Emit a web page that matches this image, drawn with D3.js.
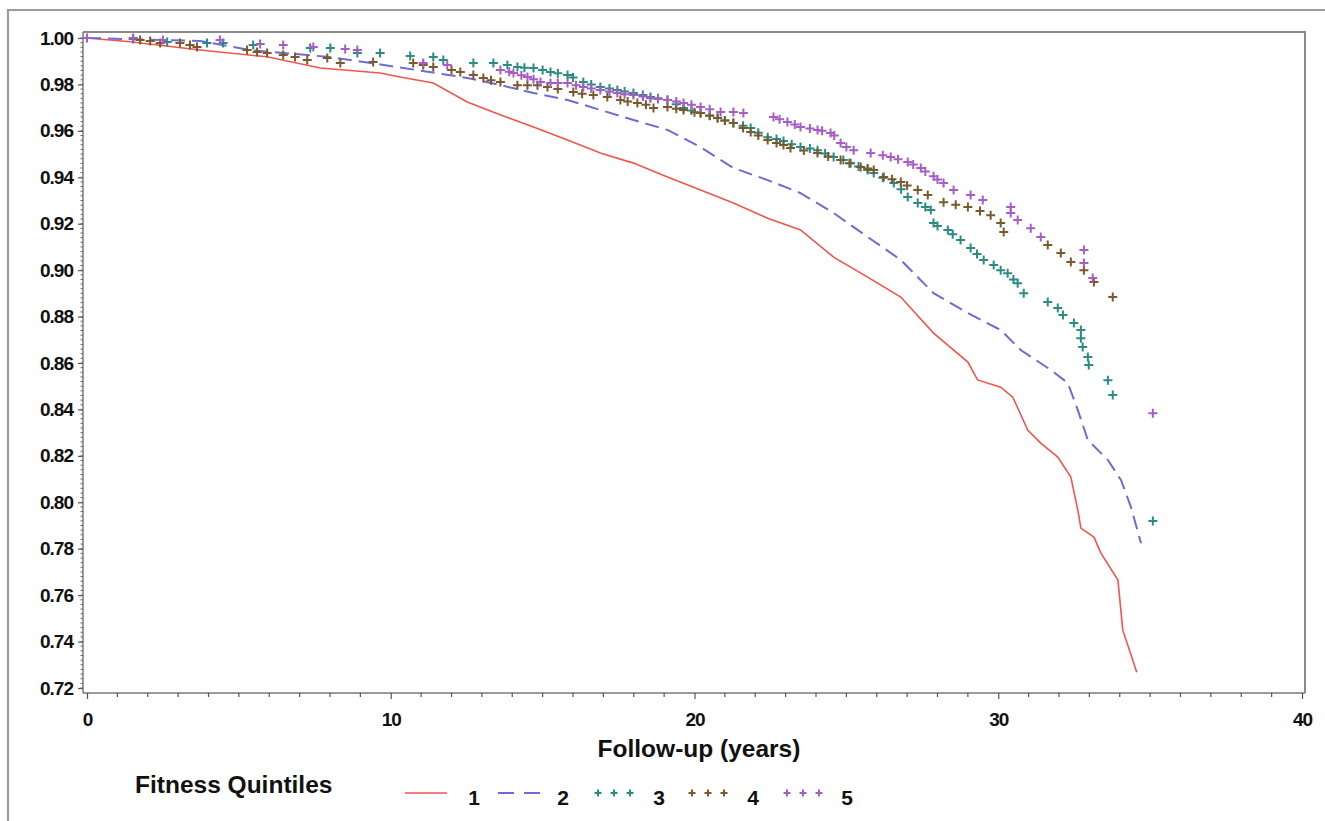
<!DOCTYPE html>
<html><head><meta charset="utf-8">
<script src="https://cdn.jsdelivr.net/npm/d3@7"></script>
<style>
body{margin:0;background:#fff;}
svg text{font-family:"Liberation Sans",Arial,Helvetica,sans-serif;font-weight:bold;fill:#111;}
</style></head>
<body>
<svg id="c" width="1325" height="821"></svg>
<script>
// ---- data (time in years, survival probability) ----
const xTicks = [0, 10, 20, 30, 40];
const yTicks = [1.00, 0.98, 0.96, 0.94, 0.92, 0.90, 0.88, 0.86, 0.84, 0.82, 0.80, 0.78, 0.76, 0.74, 0.72];
const quintiles = ["1", "2", "3", "4", "5"];

const q1Time = [0,1.42,3.72,5.93,7.68,9.65,10.31,11.40,12.52,13.62,14.70,15.82,16.90,17.99,19.11,20.20,21.28,22.41,23.49,24.58,25.70,26.79,27.87,29.00,29.32,30.08,30.48,30.97,31.40,31.96,32.39,32.62,32.72,33.15,33.38,33.94,34.10,34.56];
const q1Surv = [1.000,0.9984,0.9948,0.9919,0.9871,0.9849,0.9832,0.9806,0.9724,0.9668,0.9617,0.9561,0.9505,0.9461,0.9401,0.9345,0.9289,0.9224,0.9173,0.9056,0.8970,0.8884,0.8729,0.8604,0.8527,0.8496,0.8453,0.8311,0.8255,0.8195,0.8109,0.7966,0.7889,0.7850,0.7781,0.7665,0.7449,0.7268];

const q2Time = [0,3.72,5.37,8.01,10.21,12.52,13.61,14.70,15.82,16.90,17.99,19.11,20.20,21.28,22.41,23.49,24.58,25.70,26.79,27.87,29.00,30.08,30.74,31.73,32.29,32.62,32.95,33.61,34.04,34.37,34.70];
const q2Surv = [1.000,0.9987,0.9948,0.9918,0.9875,0.9828,0.9797,0.9763,0.9733,0.9690,0.9647,0.9604,0.9530,0.9440,0.9388,0.9332,0.9246,0.9143,0.9044,0.8901,0.8815,0.8742,0.8656,0.8570,0.8514,0.8397,0.8268,0.8182,0.8096,0.7979,0.7824];

const q3Time = [1.52,2.64,3.95,4.48,5.47,7.35,8.01,8.90,9.65,10.64,11.40,11.73,12.72,13.38,13.84,14.17,14.70,15.26,15.82,16.34,16.90,17.46,17.99,18.55,19.11,19.64,20.20,20.76,21.28,21.85,22.41,22.93,23.49,24.05,24.58,25.14,25.70,25.90,26.56,27.02,27.35,27.78,27.87,28.34,28.76,29.09,29.52,29.85,30.08,30.31,30.64,30.84,31.63,31.96,32.13,32.49,32.72,32.72,32.78,32.95,32.98,33.61,33.77,35.09,
  14.4,15.0,15.5,16.0,16.6,17.2,17.7,18.3,18.8,19.4,19.9,20.5,21.0,21.6,22.1,22.7,23.2,23.8,24.3,24.9,25.4,26.2,26.8,27.6,28.0,28.5,29.3,30.5];
const q3Surv = [0.9996,0.9983,0.9978,0.9978,0.9970,0.9957,0.9957,0.9935,0.9935,0.9922,0.9918,0.9905,0.9892,0.9892,0.9884,0.9875,0.9871,0.9854,0.9841,0.9810,0.9789,0.9776,0.9763,0.9746,0.9733,0.9698,0.9677,0.9655,0.9634,0.9612,0.9573,0.9556,0.9530,0.9517,0.9487,0.9461,0.9431,0.9418,0.9375,0.9315,0.9289,0.9259,0.9203,0.9173,0.9130,0.9095,0.9044,0.9022,0.9000,0.8987,0.8944,0.8901,0.8863,0.8837,0.8807,0.8772,0.8742,0.8707,0.8669,0.8626,0.8591,0.8526,0.8462,0.7919,
  0.9872,0.9862,0.9848,0.9830,0.9800,0.9782,0.9770,0.9755,0.9740,0.9715,0.9688,0.9666,0.9645,0.9622,0.9592,0.9565,0.9542,0.9524,0.9502,0.9474,0.9446,0.9398,0.9348,0.9272,0.9190,0.9155,0.9070,0.8960];

const q4Time = [1.75,2.08,2.41,3.06,3.39,3.62,5.27,5.60,5.93,6.46,6.85,7.25,7.91,8.34,9.42,10.74,11.07,11.40,12.29,12.72,13.05,13.61,14.17,14.83,15.16,16.01,16.67,17.13,17.56,18.12,18.65,19.11,19.64,20.20,20.76,21.28,21.85,22.41,22.93,23.16,24.05,24.81,25.47,25.90,26.23,26.79,27.35,27.68,28.20,29.00,29.75,30.08,30.18,31.63,32.06,32.39,32.82,33.15,33.77,
  12.0,13.3,14.5,15.5,16.3,17.8,18.4,19.4,20.0,20.5,21.0,21.6,22.1,22.7,23.6,24.4,25.1,25.7,26.5,27.0,28.6,29.4];
const q4Surv = [0.9991,0.9987,0.9978,0.9978,0.9970,0.9961,0.9948,0.9940,0.9935,0.9927,0.9918,0.9905,0.9914,0.9892,0.9897,0.9892,0.9884,0.9875,0.9854,0.9841,0.9828,0.9810,0.9797,0.9797,0.9789,0.9767,0.9754,0.9746,0.9733,0.9720,0.9698,0.9703,0.9690,0.9677,0.9655,0.9634,0.9595,0.9561,0.9539,0.9526,0.9505,0.9474,0.9444,0.9431,0.9401,0.9380,0.9345,0.9324,0.9293,0.9272,0.9237,0.9203,0.9164,0.9108,0.9074,0.9035,0.9000,0.8949,0.8884,
  0.9862,0.9818,0.9797,0.9780,0.9760,0.9726,0.9712,0.9695,0.9680,0.9665,0.9645,0.9612,0.9580,0.9548,0.9515,0.9490,0.9460,0.9438,0.9392,0.9365,0.9282,0.9255];

const q5Time = [0,1.52,2.50,4.38,5.70,6.46,7.45,8.50,8.90,11.07,11.86,13.61,14.04,14.50,14.93,15.26,15.82,16.34,16.90,17.46,17.99,18.55,19.11,19.64,20.20,20.86,21.28,21.61,22.60,23.06,23.49,24.05,24.48,24.81,25.24,25.80,26.46,27.02,27.45,27.87,28.20,28.53,29.09,29.49,30.41,30.41,30.64,31.07,31.40,32.82,32.82,33.11,35.09,
  13.9,14.3,14.7,15.5,16.1,16.6,17.2,17.7,18.3,18.8,19.4,19.9,20.5,22.8,23.3,23.8,24.2,24.6,25.0,26.2,26.7,27.2,27.6,28.0];
const q5Surv = [1.000,1.000,0.9991,0.9991,0.9974,0.9970,0.9961,0.9953,0.9948,0.9892,0.9884,0.9862,0.9849,0.9832,0.9810,0.9806,0.9806,0.9789,0.9776,0.9763,0.9754,0.9741,0.9733,0.9720,0.9703,0.9681,0.9681,0.9677,0.9660,0.9638,0.9617,0.9604,0.9591,0.9548,0.9517,0.9505,0.9487,0.9466,0.9440,0.9405,0.9375,0.9345,0.9324,0.9302,0.9272,0.9246,0.9216,0.9181,0.9143,0.9087,0.9031,0.8966,0.8384,
  0.9855,0.9840,0.9822,0.9806,0.9797,0.9782,0.9770,0.9758,0.9748,0.9737,0.9726,0.9712,0.9693,0.9650,0.9627,0.9610,0.9600,0.9580,0.9530,0.9495,0.9478,0.9455,0.9425,0.9390];

const colors = ["#f2544e", "#6d6cd2", "#2b8c83", "#7a5a2c", "#a65ec6"];

// ---- drawing ----
(function () {
const svg = d3.select("#c");
const x = d3.scaleLinear().domain([0, 40]).range([87, 1302]);
const y = d3.scaleLinear().domain([0.72, 1.0]).range([688, 38]);
const pL = 83, pT = 32, pR = 1305, pB = 693;

// outer frame
svg.append("path").attr("d", `M8,830 L8,10 L1330,10`).attr("fill", "none").attr("stroke", "#9a9a9a").attr("stroke-width", 2.2);
// plot frame (top & right)
svg.append("path").attr("d", `M${pL},${pT} L${pR},${pT} L${pR},${pB}`).attr("fill", "none").attr("stroke", "#8a8a8a").attr("stroke-width", 2);

// y axis
const yAxis = d3.axisLeft(y).tickValues(yTicks).tickFormat(d3.format(".2f")).tickSize(5).tickPadding(5);
const gy = svg.append("g").attr("transform", `translate(${pL},0)`).call(yAxis);
gy.select(".domain").attr("d", `M0,${pT}V${pB}`).attr("stroke", "#7a7a7a").attr("stroke-width", 1.5);
gy.selectAll(".tick line").attr("stroke", "#555").attr("stroke-width", 1.2);
gy.selectAll(".tick text").attr("font-size", 19).attr("letter-spacing", "-1px").attr("fill", "#111");
// y minor ticks
const yMinor = d3.range(0, 141).map(i => 0.72 + i * 0.002).filter(v => v <= 1.0001);
svg.append("g").selectAll("line").data(yMinor).join("line")
  .attr("x1", pL - 2.5).attr("x2", pL).attr("y1", d => y(d)).attr("y2", d => y(d))
  .attr("stroke", "#666").attr("stroke-width", 1);

// x axis
const xAxis = d3.axisBottom(x).tickValues(xTicks).tickFormat(d3.format("d")).tickSize(6).tickPadding(14);
const gx = svg.append("g").attr("transform", `translate(0,${pB})`).call(xAxis);
gx.select(".domain").attr("d", `M${pL},0H${pR}`).attr("stroke", "#7a7a7a").attr("stroke-width", 1.5);
gx.selectAll(".tick line").attr("stroke", "#555").attr("stroke-width", 1.2);
gx.selectAll(".tick text").attr("font-size", 19).attr("letter-spacing", "-1px").attr("fill", "#111");
const xMinor = d3.range(0, 41).filter(v => v % 10 !== 0);
svg.append("g").selectAll("line").data(xMinor).join("line")
  .attr("x1", d => x(d)).attr("x2", d => x(d)).attr("y1", pB).attr("y2", pB + 4)
  .attr("stroke", "#555").attr("stroke-width", 1.2);

// axis title
svg.append("text").attr("x", 699).attr("y", 757).attr("text-anchor", "middle")
  .attr("font-size", 24.5).text("Follow-up (years)");

// lines
const line = d3.line().x(d => x(d[0])).y(d => y(d[1]));
svg.append("path").datum(d3.zip(q1Time, q1Surv)).attr("d", line)
  .attr("fill", "none").attr("stroke", colors[0]).attr("stroke-width", 1.6);
svg.append("path").datum(d3.zip(q2Time, q2Surv)).attr("d", line)
  .attr("fill", "none").attr("stroke", colors[1]).attr("stroke-width", 2).attr("stroke-dasharray", "14,7");

// plus markers
function plus(g, px, py, col, s) {
  g.append("path").attr("d", `M${px - s},${py}H${px + s}M${px},${py - s}V${py + s}`)
    .attr("stroke", col).attr("stroke-width", 2).attr("fill", "none");
}
const markerSeries = [[q3Time, q3Surv], [q4Time, q4Surv], [q5Time, q5Surv]];
markerSeries.forEach((ser, i) => {
  const g = svg.append("g");
  d3.zip(ser[0], ser[1]).forEach(d => plus(g, x(d[0]), y(d[1]), colors[i + 2], 4.5));
});

// legend
svg.append("text").attr("x", 135).attr("y", 793).attr("font-size", 24.5).text("Fitness Quintiles");
const legX = [405, 498, 594, 688, 783];
const legLab = [474, 563, 659, 753, 847];
quintiles.forEach((q, i) => {
  const lx = legX[i], ly = 793;
  if (i === 0) {
    svg.append("line").attr("x1", lx).attr("x2", lx + 42).attr("y1", ly).attr("y2", ly).attr("stroke", colors[0]).attr("stroke-width", 1.6);
  } else if (i === 1) {
    svg.append("line").attr("x1", lx).attr("x2", lx + 44).attr("y1", ly).attr("y2", ly).attr("stroke", colors[1]).attr("stroke-width", 2).attr("stroke-dasharray", "16,10");
  } else {
    const g = svg.append("g");
    [4, 20, 36].forEach(o => plus(g, lx + o, ly, colors[i], 3.5));
  }
  svg.append("text").attr("x", legLab[i]).attr("y", 805).attr("text-anchor", "middle").attr("font-size", 21).text(q);
});
})();
</script>
</body></html>
